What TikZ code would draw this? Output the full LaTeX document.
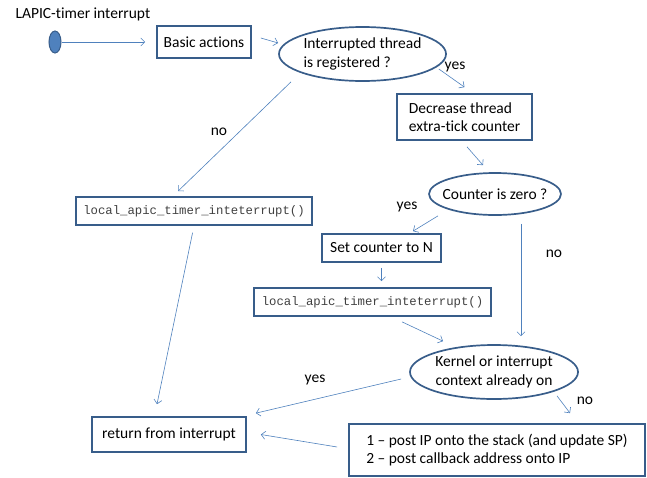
\documentclass[tikz,border=0pt]{standalone}
\usepackage{fontspec}
\setmainfont{Carlito}[Ligatures=NoCommon]
\setmonofont{Liberation Mono}
\usetikzlibrary{shapes.geometric,arrows.meta}
\definecolor{boxblue}{HTML}{385D8A}
\definecolor{lineblue}{HTML}{4F81BD}
\definecolor{codegray}{HTML}{404040}

\begin{document}
\begin{tikzpicture}[x=1pt, y=-1pt,
    every node/.style={font=\fontsize{15.5}{18.5}\selectfont},
    stepbox/.style={draw=boxblue, line width=1.7pt, inner sep=0pt, align=left},
    codebox/.style={stepbox, font=\fontsize{12.3}{14}\ttfamily, text=codegray},
    question/.style={ellipse, draw=boxblue, line width=1.7pt, inner xsep=-12pt, inner ysep=0pt, align=left},
    flow/.style={lineblue, line width=0.6pt, -{Straight Barb[length=4pt,width=8pt]}}]
    \useasboundingbox (0, 0) rectangle (647, 477);
    \node[anchor=west] (title) at (12, 14) {LAPIC-timer interrupt};
    \node[ellipse, draw=boxblue, fill=lineblue, line width=1pt, inner sep=0pt,
        minimum width=12, minimum height=22] (start) at (55, 42) {};
    \node[stepbox, minimum width=94, minimum height=32] (basic) at (204, 42) {Basic actions};
    \node[question, minimum width=167, minimum height=54] (reg) at (362.5, 54) {Interrupted thread\\is registered ?};
    \node[stepbox, minimum width=135, minimum height=46] (dec) at (464.5, 117) {Decrease thread\\extra-tick counter};
    \node[question, minimum width=132, minimum height=42] (zero) at (495, 194) {Counter is zero ?};
    \node[codebox, minimum width=236, minimum height=28] (lapicA) at (194, 211) {local\_apic\_timer\_inteterrupt()};
    \node[stepbox, minimum width=119, minimum height=28] (setn) at (381.5, 248) {Set counter to N};
    \node[codebox, minimum width=237, minimum height=28] (lapicB) at (372.5, 302) {local\_apic\_timer\_inteterrupt()};
    \node[question, minimum width=168, minimum height=54, align=center] (kern) at (494, 372) {Kernel or interrupt\\context already on};
    \node[stepbox, minimum width=154, minimum height=35] (ret) at (169, 434.5) {return from interrupt};
    \node[stepbox, minimum width=296, minimum height=52] (post) at (497, 450) {1 -- post IP onto the stack (and update SP)\\2 -- post callback address onto IP};

    \node (noA) at (219, 132) {no};
    \node (yesA) at (455, 67) {yes};
    \node (yesB) at (407, 207) {yes};
    \node (noB) at (554, 254) {no};
    \node (yesC) at (315, 380) {yes};
    \node (noC) at (585, 401) {no};

    \draw[flow, shorten >=11pt] (start.east) -- (basic.west);
    \draw[flow] ([xshift=9pt, yshift=4pt]basic.east) -- ([yshift=11pt]reg.west);
    \draw[flow] ([xshift=-71.5pt]reg.south) -- ([xshift=-16pt, yshift=5pt]lapicA.north);
    \draw[flow] ([xshift=-8pt, yshift=-15pt]reg.east) -- ([yshift=6pt]dec.north);
    \draw[flow] ([xshift=2.5pt, yshift=-6pt]dec.south) -- ([xshift=-12pt, yshift=7pt]zero.north);
    \draw[flow] ([xshift=-57pt]zero.south) -- ([xshift=31.5pt, yshift=2pt]setn.north);
    \draw[flow, shorten <=5pt, shorten >=6pt] (setn.south) -- (setn.south |- lapicB.north);
    \draw[flow] ([xshift=29.5pt, yshift=-5pt]lapicB.south) -- ([xshift=-51pt, yshift=3pt]kern.north);
    \draw[flow, shorten <=8pt, shorten >=8pt] ([xshift=26pt]zero.south) -- ([xshift=26pt]zero.south |- kern.north);
    \draw[flow] ([xshift=-8pt, yshift=-7pt]kern.west) -- ([xshift=9pt, yshift=3pt]ret.north east);
    \draw[flow] ([xshift=63pt, yshift=4pt]kern.south) -- ([xshift=73pt, yshift=10pt]post.north);
    \draw[flow] ([xshift=-11pt, yshift=3pt]post.west) -- ([xshift=14pt]ret.east);
    \draw[flow, shorten <=7pt] (lapicA.south) -- ([xshift=-12pt, yshift=12pt]ret.north);
\end{tikzpicture}
\end{document}
